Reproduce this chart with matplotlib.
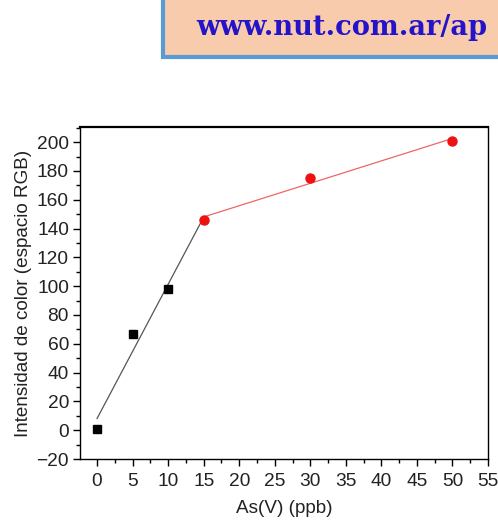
import numpy as np
import matplotlib
matplotlib.use("Agg")
import matplotlib.pyplot as plt
from matplotlib.patches import Rectangle
from matplotlib.ticker import MultipleLocator

plt.rcParams['font.family'] = ['Liberation Sans', 'DejaVu Sans']

x_low = [0, 5, 10, 15]
y_low = [1, 67, 98, 146]
x_high = [15, 30, 50]
y_high = [146, 175, 201]
x_ticks = [0, 5, 10, 15, 20, 25, 30, 35, 40, 45, 50, 55]
y_ticks = [-20, 0, 20, 40, 60, 80, 100, 120, 140, 160, 180, 200]
banner_text = "www.nut.com.ar/ap"

fig = plt.figure(figsize=(4.98, 5.2), dpi=100)
W, H = 498, 520
ax = fig.add_axes([80 / W, 1 - 459 / H, (488 - 80) / W, (459 - 127) / H])

# fits
p1 = np.polyfit(x_low, y_low, 1)
p2 = np.polyfit(x_high, y_high, 1)
xl = np.array([x_low[0], x_low[-1]])
xh = np.array([x_high[0], x_high[-1]])
ax.plot(xl, np.polyval(p1, xl), color='#555555', lw=0.9, zorder=2)
ax.plot(xh, np.polyval(p2, xh), color='#ee6666', lw=0.9, zorder=2)

ax.plot(x_low[:3], y_low[:3], 's', color='black', ms=6, zorder=3)
ax.plot([x_low[3]] + x_high[1:], [y_low[3]] + y_high[1:], 'o', color='#ee1111', ms=6.5, zorder=3)

ax.set_xlim(-2.4, 55)
ax.set_ylim(-20, 210.5)
ax.set_xticks(x_ticks)
ax.set_yticks(y_ticks)
ax.xaxis.set_minor_locator(MultipleLocator(2.5))
ax.yaxis.set_minor_locator(MultipleLocator(10))
ax.tick_params(which='major', direction='out', length=5, width=1, labelsize=13.8, colors='black', labelcolor='#222222')
ax.tick_params(which='minor', direction='out', length=3, width=1)
ax.tick_params(axis='x', pad=5)
ax.tick_params(axis='y', pad=3)
for s in ax.spines.values():
    s.set_linewidth(1.0)
ax.spines['top'].set_linewidth(1.6)
ax.set_xlabel("As(V) (ppb)", fontsize=13.6, labelpad=7, color='#222222')
ax.set_ylabel("Intensidad de color (espacio RGB)", fontsize=13.6, labelpad=3, color='#222222')

# banner
fig.patches.append(Rectangle((163 / W, 1 - 57 / H), (W + 10 - 163) / W, 60 / H,
                             transform=fig.transFigure, facecolor='#f8cbad',
                             edgecolor='#5b9bd5', linewidth=3, clip_on=False))
fig.text(196 / W, 1 - 35 / H, banner_text, fontsize=19.6, fontweight='bold',
         family=['DejaVu Serif'], color='#2413c8', va='baseline', ha='left')

fig.savefig("out.png", dpi=100)
